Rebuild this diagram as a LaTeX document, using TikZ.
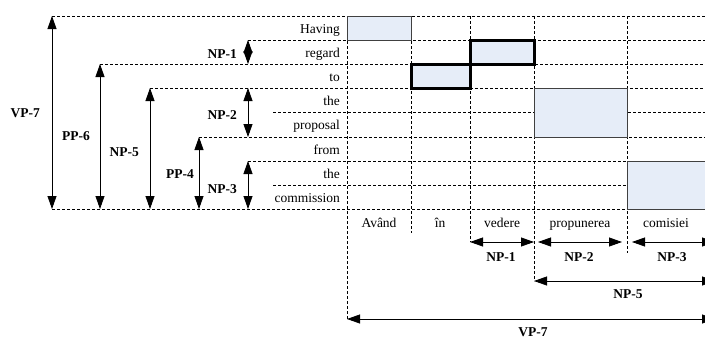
\documentclass[tikz,border=0pt]{standalone}
\usepackage{fontspec}
\setmainfont{Liberation Serif}
\usetikzlibrary{arrows.meta}
\definecolor{boxfill}{RGB}{230,237,248}
\begin{document}
\begin{tikzpicture}[x=1pt,y=-1pt,
  grid/.style={dash pattern=on 3pt off 2pt, line width=0.7pt},
  dim/.style={{Triangle[length=13pt,width=9pt]}-{Triangle[length=13pt,width=9pt]}, line width=0.8pt},
  word/.style={font=\fontsize{13.5}{15}\selectfont, inner sep=0pt},
  lab/.style={font=\fontsize{13.5}{15}\selectfont\bfseries, inner sep=0pt},
  thinbox/.style={fill=boxfill, draw=black!75, line width=0.8pt},
  thickbox/.style={fill=boxfill, draw=black, line width=3pt}]
\useasboundingbox (0,0) rectangle (705,338);

% horizontal grid lines
\draw[grid] (52,16) -- (705,16);
\draw[grid] (248,40) -- (705,40);
\draw[grid] (100,64) -- (705,64);
\draw[grid] (150,88) -- (705,88);
\draw[grid] (273,112) -- (705,112);
\draw[grid] (199,137) -- (705,137);
\draw[grid] (248,161) -- (705,161);
\draw[grid] (273,185) -- (705,185);
\draw[grid] (52,209) -- (705,209);

% vertical grid lines
\draw[grid] (347,16) -- (347,319);
\draw[grid] (411,16) -- (411,233);
\draw[grid] (470,16) -- (470,242);
\draw[grid] (534,16) -- (534,281);
\draw[grid] (627,16) -- (627,253);

% alignment boxes
\draw[thinbox] (347,16) rectangle (411,40);
\draw[thinbox] (534,88) rectangle (627,137);
\draw[thinbox] (627,161) rectangle (712,209);
\draw[thickbox] (470,40) rectangle (534,64);
\draw[thickbox] (411,64) rectangle (470,88);

% English words
\node[word, anchor=base east] (e1) at (340,33) {Having};
\node[word, anchor=base east] (e2) at (340,57) {regard};
\node[word, anchor=base east] (e3) at (340,81) {to};
\node[word, anchor=base east] (e4) at (340,105) {the};
\node[word, anchor=base east] (e5) at (340,129) {proposal};
\node[word, anchor=base east] (e6) at (340,154) {from};
\node[word, anchor=base east] (e7) at (340,178) {the};
\node[word, anchor=base east] (e8) at (340,202) {commission};

% Romanian words
\node[word, anchor=base] (r1) at (379,227) {Având};
\node[word, anchor=base] (r2) at (440,227) {în};
\node[word, anchor=base] (r3) at (502,227) {vedere};
\node[word, anchor=base] (r4) at (580,227) {propunerea};
\node[word, anchor=base] (r5) at (666,227) {comisiei};

% left vertical brackets
\coordinate (vp7a) at (52,16);  \coordinate (vp7b) at (52,209);
\coordinate (pp6a) at (100,64); \coordinate (pp6b) at (100,209);
\coordinate (np5a) at (150,88); \coordinate (np5b) at (150,209);
\coordinate (pp4a) at (199,137);\coordinate (pp4b) at (199,209);
\coordinate (np1a) at (248,40); \coordinate (np1b) at (248,64);
\coordinate (np2a) at (248,88); \coordinate (np2b) at (248,137);
\coordinate (np3a) at (248,161);\coordinate (np3b) at (248,209);
\draw[dim] (vp7a) -- (vp7b);
\draw[dim] (pp6a) -- (pp6b);
\draw[dim] (np5a) -- (np5b);
\draw[dim] (pp4a) -- (pp4b);
\draw[dim] (np1a) -- (np1b);
\draw[dim] (np2a) -- (np2b);
\draw[dim] (np3a) -- (np3b);

\node[lab, anchor=base east] (lvp7) at (40,117) {VP-7};
\node[lab, anchor=base east] (lpp6) at (90,140) {PP-6};
\node[lab, anchor=base east] (lnp5) at (139,156) {NP-5};
\node[lab, anchor=base east] (lpp4) at (194,178) {PP-4};
\node[lab, anchor=base east] (lnp1) at (237,58) {NP-1};
\node[lab, anchor=base east] (lnp2) at (237,119) {NP-2};
\node[lab, anchor=base east] (lnp3) at (237,193) {NP-3};

% bottom horizontal brackets
\coordinate (bnp1a) at (470,242); \coordinate (bnp1b) at (534,242);
\coordinate (bnp2a) at (538,242); \coordinate (bnp2b) at (622,242);
\coordinate (bnp3a) at (632,242); \coordinate (bnp3b) at (715,242);
\coordinate (bnp5a) at (534,281); \coordinate (bnp5b) at (715,281);
\coordinate (bvp7a) at (347,319); \coordinate (bvp7b) at (715,319);
\draw[dim] (bnp1a) -- (bnp1b);
\draw[dim] (bnp2a) -- (bnp2b);
\draw[dim] (bnp3a) -- (bnp3b);
\draw[dim] (bnp5a) -- (bnp5b);
\draw[dim] (bvp7a) -- (bvp7b);

\node[lab, anchor=base] (bl1) at (501,261) {NP-1};
\node[lab, anchor=base] (bl2) at (579,261) {NP-2};
\node[lab, anchor=base] (bl3) at (672,261) {NP-3};
\node[lab, anchor=base] (bl5) at (628,298) {NP-5};
\node[lab, anchor=base] (bl7) at (533,336) {VP-7};
\end{tikzpicture}
\end{document}
